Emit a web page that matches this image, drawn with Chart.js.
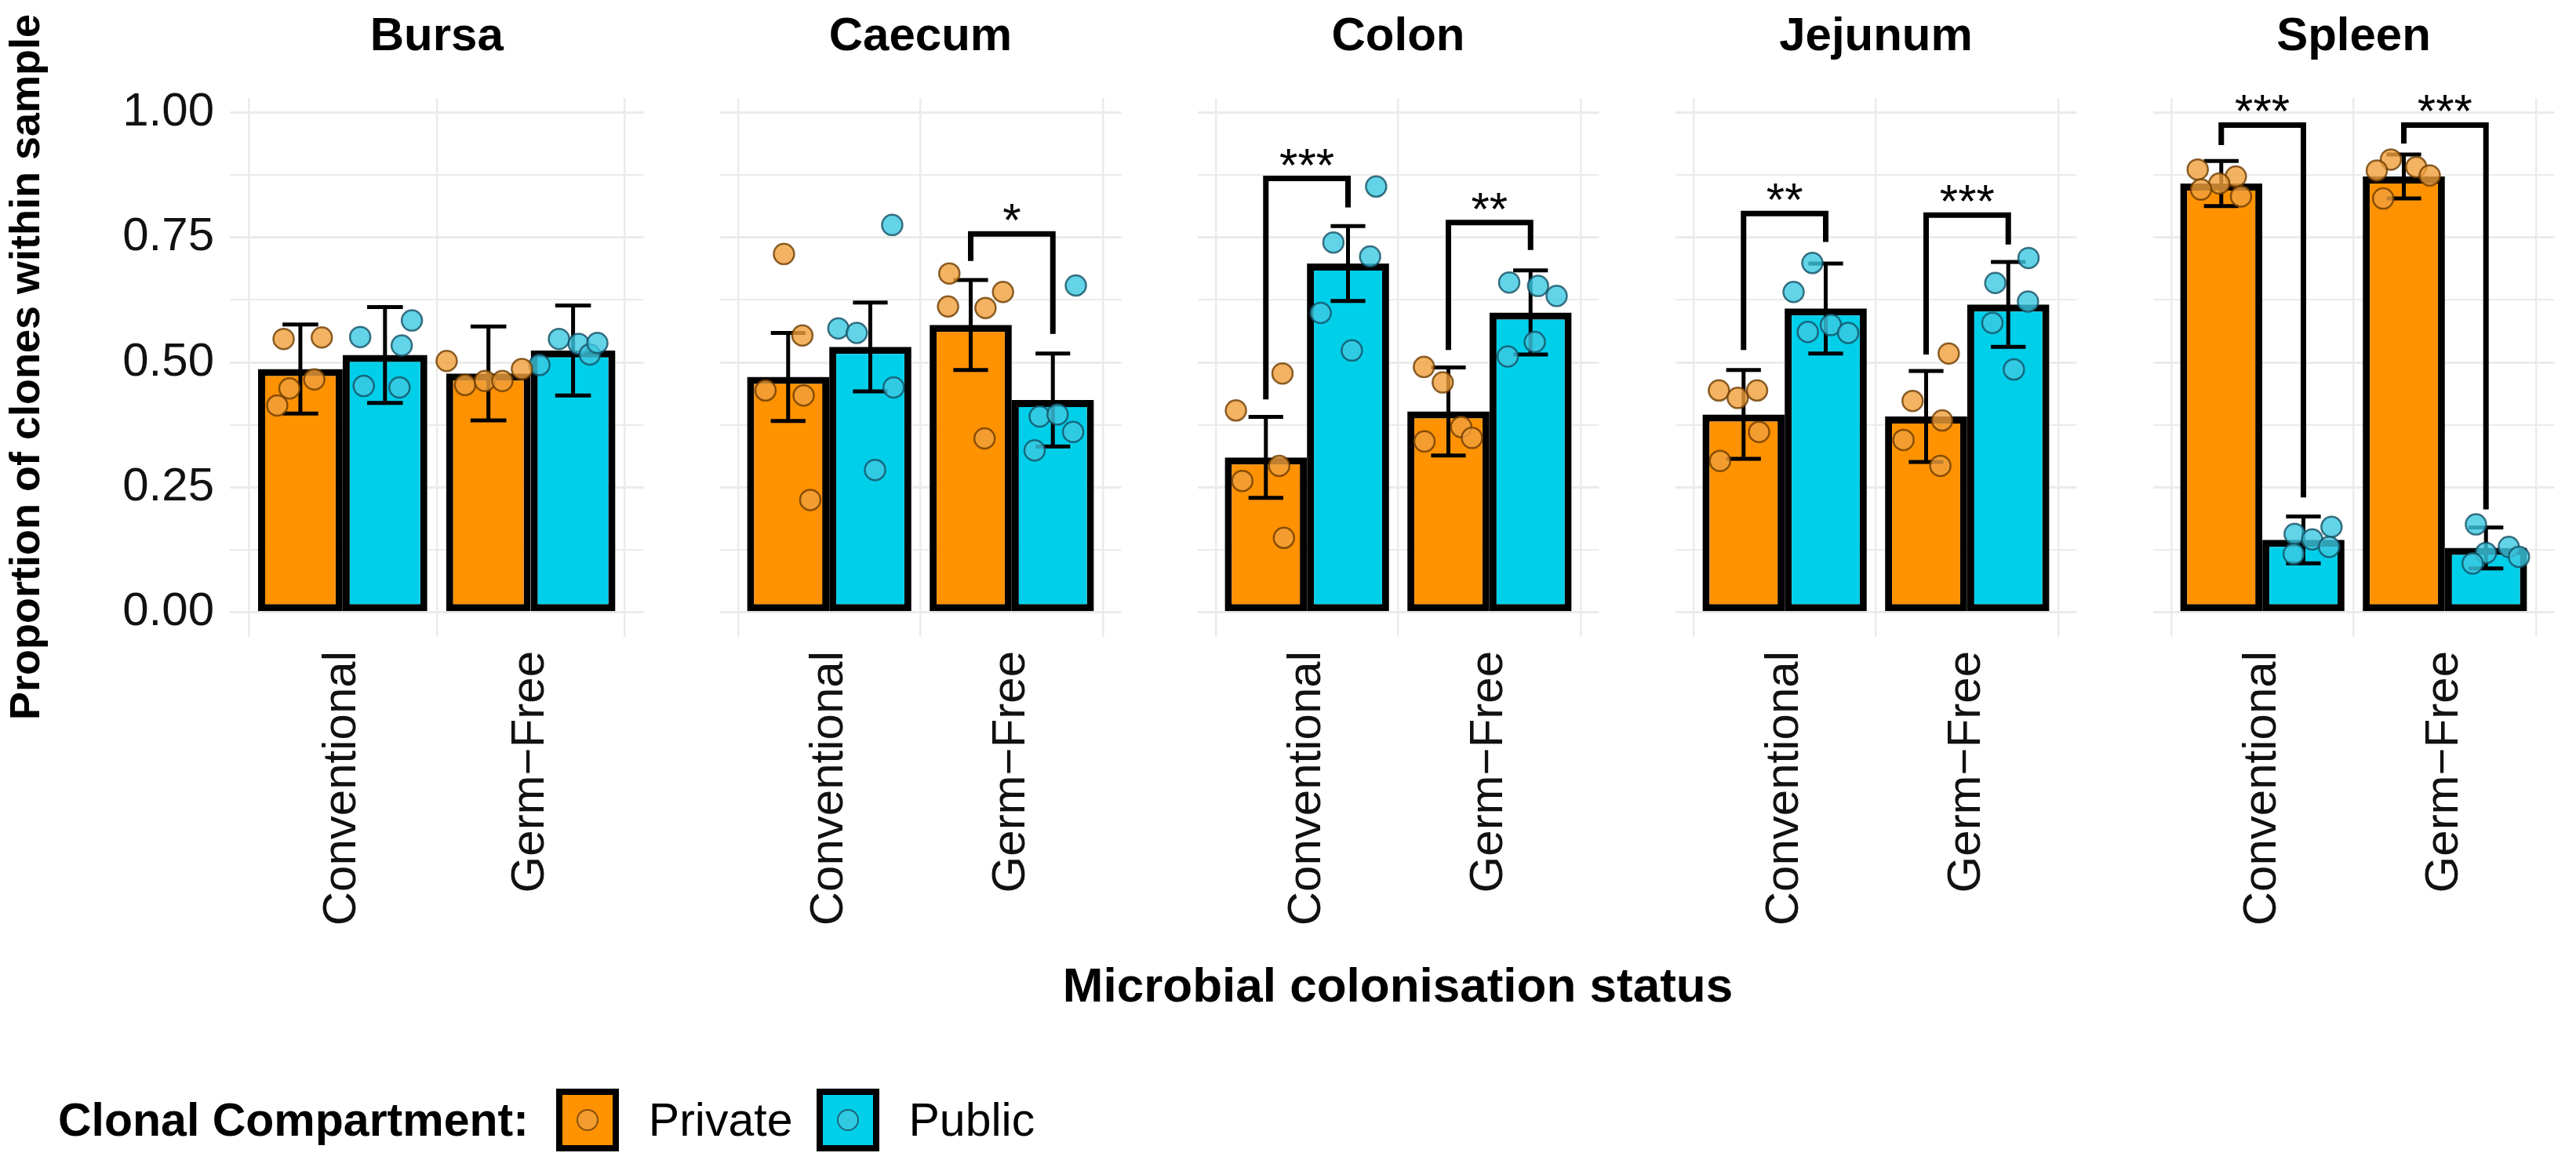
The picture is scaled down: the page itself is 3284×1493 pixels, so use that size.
<!DOCTYPE html>
<html>
<head>
<meta charset="utf-8">
<script src="https://cdn.jsdelivr.net/npm/chart.js@4.4.1/dist/chart.umd.min.js"></script>
<style>
  html, body { margin: 0; padding: 0; background: #fff; }
  #fig { position: relative; width: 3284px; height: 1493px; background: #fff; overflow: hidden;
         font-family: "Liberation Sans", Arial, Helvetica, sans-serif; color: #000; }
  .panel { position: absolute; top: 0; }
  .panel canvas { display: block; }
  #ytitle { position: absolute; left: 31px; top: 468px; transform: translate(-50%, -50%) rotate(-90deg);
            white-space: nowrap; font-weight: bold; font-size: 54px; line-height: 1; }
  #xtitle { position: absolute; left: 1782px; top: 1256px; transform: translate(-50%, -50%);
            white-space: nowrap; font-weight: bold; font-size: 62px; line-height: 1; }
  #legend { position: absolute; left: 74px; top: 1388px; height: 80px; display: flex; align-items: center;
            white-space: nowrap; font-size: 59px; line-height: 1; }
  #legTitle { font-weight: bold; margin-right: 35px; }
  .key { width: 80px; height: 80px; box-sizing: border-box; border: 8px solid #000;
         display: inline-flex; align-items: center; justify-content: center; }
  .dot { width: 28px; height: 28px; border-radius: 50%; box-sizing: border-box; border-width: 2.5px; border-style: solid; }
  .lab { margin-left: 38px; margin-right: 30px; }
</style>
</head>
<body>
<div id="fig">
  <div id="ytitle"></div>
  <div id="xtitle"></div>
  <div id="legend">
    <span id="legTitle"></span>
    <span class="key" id="key0"><span class="dot" id="dot0"></span></span><span class="lab" id="lab0"></span>
    <span class="key" id="key1"><span class="dot" id="dot1"></span></span><span class="lab" id="lab1"></span>
  </div>
</div>
<script>
// ---------------- DATA ----------------
const organs = ['Bursa', 'Caecum', 'Colon', 'Jejunum', 'Spleen'];
const categories = ['Conventional', 'Germ\u2212Free'];
const seriesNames = ['Private', 'Public'];
const yTickValues = [0, 0.25, 0.5, 0.75, 1.0];
const yTickLabels = ['0.00', '0.25', '0.50', '0.75', '1.00'];
const yMinorValues = [0.125, 0.375, 0.625, 0.875];
const yTitleText = 'Proportion of clones within sample';
const xTitleText = 'Microbial colonisation status';
const legendTitleText = 'Clonal Compartment:';

// bar means [organ][category]
const privateMean = [[0.487, 0.478], [0.471, 0.575], [0.310, 0.402], [0.396, 0.392], [0.858, 0.872]];
const publicMean  = [[0.515, 0.524], [0.531, 0.425], [0.698, 0.600], [0.608, 0.616], [0.145, 0.129]];
// error half-widths [organ][category]
const privateErr = [[0.089, 0.094], [0.088, 0.090], [0.081, 0.088], [0.089, 0.091], [0.045, 0.044]];
const publicErr  = [[0.096, 0.090], [0.089, 0.093], [0.075, 0.084], [0.090, 0.085], [0.047, 0.041]];

// individual samples [organ][category][sample]
const privatePts = [
  [[0.547, 0.550, 0.466, 0.448, 0.414], [0.503, 0.455, 0.463, 0.463, 0.487]],
  [[0.717, 0.554, 0.444, 0.434, 0.225], [0.678, 0.641, 0.612, 0.609, 0.348]],
  [[0.478, 0.404, 0.293, 0.263, 0.149], [0.491, 0.460, 0.371, 0.349, 0.342]],
  [[0.444, 0.444, 0.429, 0.361, 0.303], [0.518, 0.423, 0.384, 0.345, 0.293]],
  [[0.886, 0.872, 0.858, 0.846, 0.832], [0.906, 0.884, 0.891, 0.874, 0.828]]
];
const privateJitter = [
  [[-0.089, 0.114, 0.074, -0.058, -0.123], [-0.222, -0.124, -0.019, 0.074, 0.178]],
  [[-0.023, 0.078, -0.124, 0.085, 0.121], [-0.117, 0.177, -0.124, 0.081, 0.076]],
  [[0.091, -0.164, 0.073, -0.129, 0.099], [-0.134, -0.031, 0.070, 0.129, -0.131]],
  [[-0.135, 0.074, -0.032, 0.085, -0.129], [0.124, -0.074, 0.088, -0.124, 0.078]],
  [[-0.129, 0.080, -0.011, -0.111, 0.108], [-0.071, -0.148, 0.068, 0.142, -0.113]]
];
const publicPts = [
  [[0.551, 0.584, 0.534, 0.453, 0.450], [0.495, 0.547, 0.537, 0.516, 0.539]],
  [[0.775, 0.568, 0.559, 0.450, 0.285], [0.654, 0.392, 0.396, 0.361, 0.324]],
  [[0.852, 0.740, 0.712, 0.599, 0.524], [0.660, 0.653, 0.633, 0.541, 0.512]],
  [[0.699, 0.641, 0.575, 0.561, 0.559], [0.709, 0.659, 0.622, 0.579, 0.486]],
  [[0.171, 0.157, 0.146, 0.131, 0.117], [0.176, 0.131, 0.119, 0.111, 0.098]]
];
const publicJitter = [
  [[-0.132, 0.143, 0.089, -0.113, 0.077], [-0.179, -0.075, 0.030, 0.089, 0.129]],
  [[0.120, -0.175, -0.074, 0.128, 0.026], [0.126, -0.072, 0.026, 0.111, -0.100]],
  [[0.154, -0.080, 0.121, -0.150, 0.021], [-0.117, 0.041, 0.143, 0.023, -0.125]],
  [[-0.073, -0.176, 0.028, -0.098, 0.123], [0.111, -0.071, 0.108, -0.087, 0.031]],
  [[0.154, -0.048, 0.048, 0.141, -0.053], [-0.055, 0.125, 0.000, 0.181, -0.073]]
];

// significance brackets
const sigPanel    = [1, 2, 2, 3, 3, 4, 4];
const sigGroup    = [1, 0, 1, 0, 1, 0, 1];
const sigTop      = [0.757, 0.868, 0.780, 0.798, 0.795, 0.975, 0.975];
const sigLeftEnd  = [0.703, 0.426, 0.525, 0.525, 0.516, 0.935, 0.938];
const sigRightEnd = [0.557, 0.810, 0.725, 0.741, 0.736, 0.230, 0.206];
const sigLabel    = ['*', '***', '**', '**', '***', '***', '***'];

// ---------------- STYLE / LAYOUT ----------------
const FONT = "'Liberation Sans', Arial, Helvetica, sans-serif";
Chart.defaults.font.family = FONT;
Chart.defaults.color = '#111';
const BAR_COLORS = ['#FF9200', '#00CFEA'];
const PT_FILL = ['rgba(240,160,60,0.8)', 'rgba(60,200,225,0.8)'];
const PT_LINE = ['rgba(110,60,0,0.8)', 'rgba(20,80,100,0.8)'];
const GRID = '#EBEBEB';
const PANEL_X = [293, 902, 1511, 2120, 2729];
const PANEL_W = 543;
const AREA_TOP = 125, AREA_BOTTOM = 812, CANVAS_H = 1300;
const Y_MIN = -0.049, Y_MAX = 1.029;
const CAT_PCT = 0.9;
const DODGE = CAT_PCT / 4;      // centre offset of each dodged bar (category units)
const CAP = 0.19;               // error bar cap width (category units)

// ---------------- TEXT ----------------
document.getElementById('ytitle').textContent = yTitleText;
document.getElementById('xtitle').textContent = xTitleText;
document.getElementById('legTitle').textContent = legendTitleText;
[0, 1].forEach(s => {
  document.getElementById('key' + s).style.background = BAR_COLORS[s];
  const d = document.getElementById('dot' + s);
  d.style.background = PT_FILL[s];
  d.style.borderColor = PT_LINE[s];
  document.getElementById('lab' + s).textContent = seriesNames[s];
});

// ---------------- PLUGINS ----------------
const errorBarPlugin = {
  id: 'errorBars',
  afterDatasetDraw(chart, args) {
    const ds = chart.data.datasets[args.index];
    if (!ds.errors) return;
    const ctx = chart.ctx, xs = chart.scales.x, ys = chart.scales.y;
    const half = (xs.getPixelForValue(1 + CAP / 2) - xs.getPixelForValue(1));
    ctx.save();
    ctx.strokeStyle = '#000';
    ctx.lineWidth = 5;
    ctx.lineCap = 'butt';
    args.meta.data.forEach((bar, j) => {
      const m = ds.data[j].y, e = ds.errors[j];
      const yt = ys.getPixelForValue(m + e), yb = ys.getPixelForValue(m - e);
      ctx.beginPath();
      ctx.moveTo(bar.x, yt); ctx.lineTo(bar.x, yb);
      ctx.moveTo(bar.x - half, yt); ctx.lineTo(bar.x + half, yt);
      ctx.moveTo(bar.x - half, yb); ctx.lineTo(bar.x + half, yb);
      ctx.stroke();
    });
    ctx.restore();
  }
};

const bracketPlugin = {
  id: 'brackets',
  afterDatasetsDraw(chart) {
    const p = chart.options.plugins.brackets.panel;
    const ctx = chart.ctx, xs = chart.scales.x, ys = chart.scales.y;
    ctx.save();
    ctx.strokeStyle = '#000';
    ctx.fillStyle = '#000';
    ctx.lineWidth = 7;
    ctx.lineJoin = 'miter';
    ctx.lineCap = 'butt';
    ctx.font = '60px ' + FONT;
    ctx.textAlign = 'center';
    ctx.textBaseline = 'alphabetic';
    sigPanel.forEach((pp, k) => {
      if (pp !== p) return;
      const c = sigGroup[k] + 1;
      const x1 = xs.getPixelForValue(c - DODGE), x2 = xs.getPixelForValue(c + DODGE);
      const yT = ys.getPixelForValue(sigTop[k]);
      ctx.beginPath();
      ctx.moveTo(x1, ys.getPixelForValue(sigLeftEnd[k]));
      ctx.lineTo(x1, yT);
      ctx.lineTo(x2, yT);
      ctx.lineTo(x2, ys.getPixelForValue(sigRightEnd[k]));
      ctx.stroke();
      ctx.fillText(sigLabel[k], (x1 + x2) / 2, yT + 3);
    });
    ctx.restore();
  }
};

// ---------------- CHARTS ----------------
const fig = document.getElementById('fig');
organs.forEach((organ, i) => {
  const yW = i === 0 ? PANEL_X[0] : 0;
  const wrap = document.createElement('div');
  wrap.className = 'panel';
  wrap.style.left = (PANEL_X[i] - yW) + 'px';
  const cv = document.createElement('canvas');
  cv.width = yW + PANEL_W; cv.height = CANVAS_H;
  cv.style.width = cv.width + 'px'; cv.style.height = cv.height + 'px';
  wrap.appendChild(cv);
  fig.appendChild(wrap);

  const means = [privateMean[i], publicMean[i]];
  const errs = [privateErr[i], publicErr[i]];
  const pts = [privatePts[i], publicPts[i]];
  const jit = [privateJitter[i], publicJitter[i]];

  const datasets = [];
  [0, 1].forEach(s => {
    datasets.push({
      type: 'bar', label: seriesNames[s],
      data: categories.map((c, j) => ({ x: j + 1, y: means[s][j] })),
      errors: errs[s],
      backgroundColor: BAR_COLORS[s], borderColor: '#000', borderWidth: 9, borderSkipped: false,
      categoryPercentage: CAT_PCT, barPercentage: 1.0, order: 3
    });
  });
  [0, 1].forEach(s => {
    const off = s === 0 ? -DODGE : DODGE;
    const data = [];
    categories.forEach((c, j) => {
      pts[s][j].forEach((v, k) => data.push({ x: j + 1 + off + jit[s][j][k], y: v }));
    });
    datasets.push({
      type: 'scatter', label: seriesNames[s] + ' samples', data,
      pointRadius: 13, pointBorderWidth: 2.5, pointHoverRadius: 13,
      backgroundColor: PT_FILL[s], borderColor: PT_LINE[s], order: 1
    });
  });

  new Chart(cv, {
    type: 'bar',
    data: { datasets },
    plugins: [errorBarPlugin, bracketPlugin],
    options: {
      responsive: false, animation: false, devicePixelRatio: 1,
      layout: { padding: 0 },
      events: [],
      plugins: {
        legend: { display: false },
        tooltip: { enabled: false },
        brackets: { panel: i },
        title: {
          display: true, text: organ, fullSize: false, color: '#000',
          font: { size: 60, weight: 'bold', lineHeight: 1 },
          padding: { top: 17, bottom: 48 }
        }
      },
      scales: {
        x: {
          type: 'linear', min: 0.4, max: 2.6, offset: false,
          afterBuildTicks: sc => { sc.ticks = categories.map((c, j) => ({ value: j + 1 })); },
          afterFit: sc => { sc.height = CANVAS_H - AREA_BOTTOM; },
          ticks: {
            autoSkip: false, minRotation: 90, maxRotation: 90, padding: 18,
            font: { size: 60 }, color: '#111',
            callback: v => categories[Math.round(v) - 1] ?? ''
          },
          grid: { color: GRID, lineWidth: 2.5, drawTicks: false },
          border: { display: false }
        },
        y: {
          type: 'linear', min: Y_MIN, max: Y_MAX,
          afterBuildTicks: sc => {
            sc.ticks = yTickValues.concat(yMinorValues).sort((a, b) => a - b).map(v => ({ value: v }));
          },
          afterFit: sc => { sc.width = yW; },
          ticks: {
            display: i === 0, padding: 20, font: { size: 60 }, color: '#111',
            callback: v => {
              const k = yTickValues.findIndex(t => Math.abs(t - v) < 1e-9);
              return k >= 0 ? yTickLabels[k] : '';
            }
          },
          grid: {
            color: GRID, drawTicks: false,
            lineWidth: c => (yTickValues.some(t => Math.abs(t - c.tick.value) < 1e-9) ? 3 : 2)
          },
          border: { display: false }
        }
      }
    }
  });
});
</script>
</body>
</html>
